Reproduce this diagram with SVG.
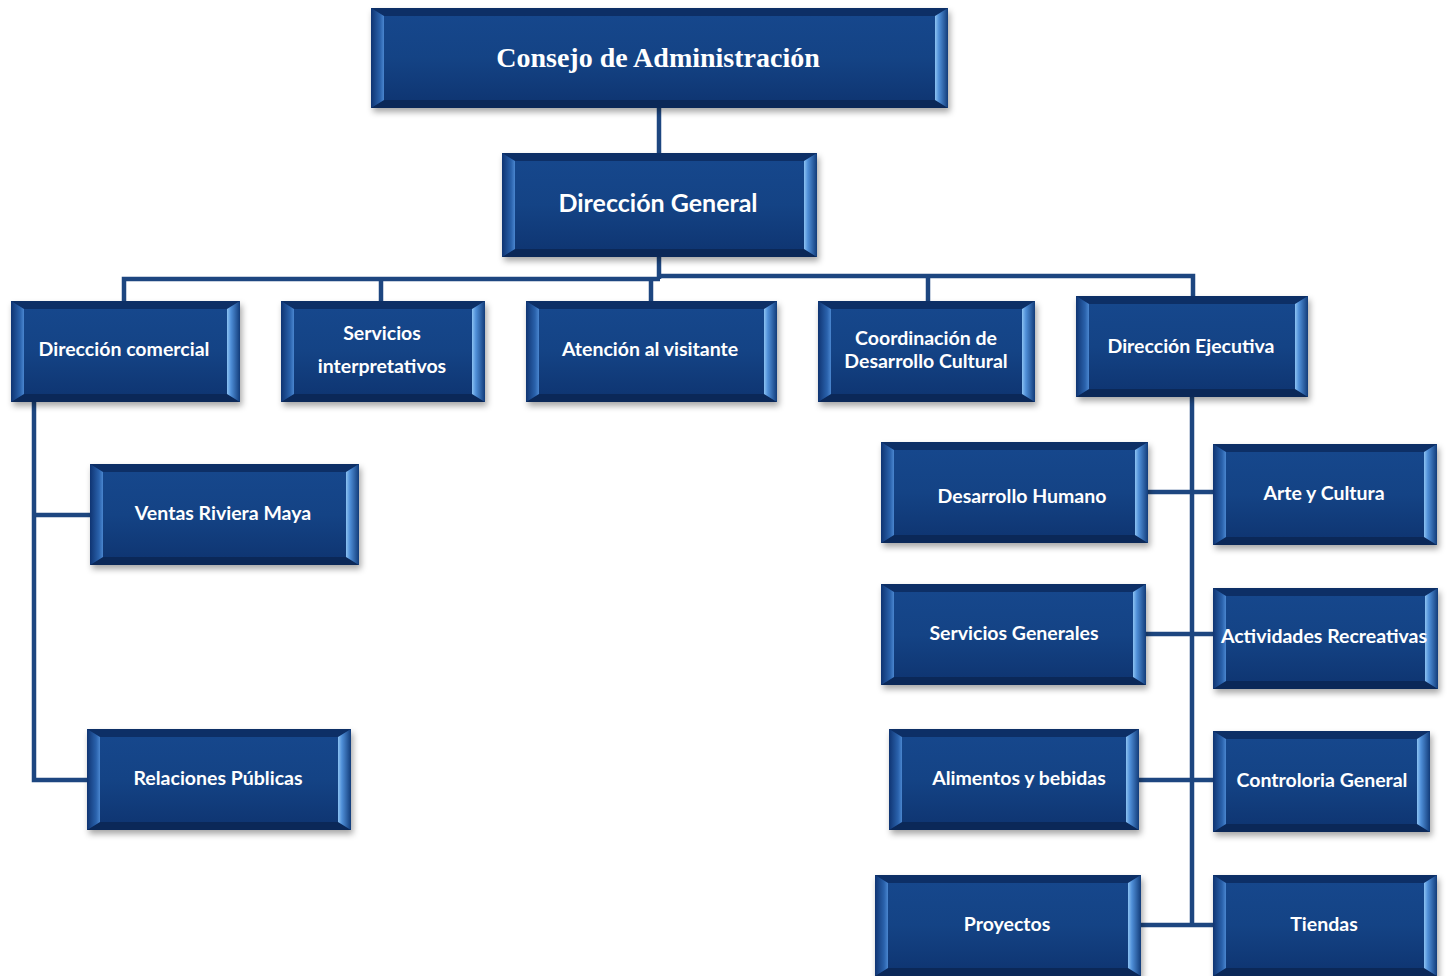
<svg xmlns="http://www.w3.org/2000/svg" width="1447" height="976" viewBox="0 0 1447 976">
<defs>
<linearGradient id="face" x1="0" y1="0" x2="0" y2="1">
<stop offset="0" stop-color="#16478c"/><stop offset="0.5" stop-color="#144385"/><stop offset="1" stop-color="#0f3673"/>
</linearGradient>
<linearGradient id="bevR" x1="0" y1="0" x2="1" y2="0">
<stop offset="0" stop-color="#8cc2f2"/><stop offset="0.3" stop-color="#4f8fd8"/><stop offset="1" stop-color="#123c7a"/>
</linearGradient>
<linearGradient id="bevL" x1="0" y1="0" x2="1" y2="0">
<stop offset="0" stop-color="#0f3472"/><stop offset="0.7" stop-color="#2a62ac"/><stop offset="1" stop-color="#4a86cf"/>
</linearGradient>
<filter id="sh" x="-10%" y="-10%" width="120%" height="130%">
<feDropShadow dx="2" dy="4" stdDeviation="3" flood-color="#000" flood-opacity="0.35"/>
</filter>
<style>
.base{fill:#0f3573;filter:url(#sh)}
.face{fill:url(#face)}
.bt{fill:#0d2f66}
.bb{fill:#0b2858}
.bl{fill:url(#bevL)}
.br{fill:url(#bevR)}
.t{fill:#fff;font-family:Lato,"Open Sans","Liberation Sans",sans-serif;font-weight:bold;font-size:19.5px;text-anchor:middle}
.tdg{font-size:25px}
.tt{fill:#fff;font-family:"Liberation Serif","DejaVu Serif",serif;font-weight:bold;font-size:28px;text-anchor:middle}
.c{stroke:#1d4680;stroke-width:4.5;fill:none}
</style>
</defs>
<rect width="1447" height="976" fill="#fff"/>
<g id="connectors">
<path class="c" d="M659,108 V153"/>
<path class="c" d="M659,257 V279"/>
<path class="c" d="M124,301 V279 H660"/>
<path class="c" d="M659,276 H1193 V296"/>
<path class="c" d="M381,279 V301"/>
<path class="c" d="M651,279 V301"/>
<path class="c" d="M928,276 V301"/>
<path class="c" d="M34,402 V780 H87"/>
<path class="c" d="M34,515 H90"/>
<path class="c" d="M1192,397 V925"/>
<path class="c" d="M1148,492 H1213"/>
<path class="c" d="M1146,634 H1213"/>
<path class="c" d="M1139,780 H1213"/>
<path class="c" d="M1141,925 H1213"/>
</g>
<g id="consejo" transform="translate(371,8)">
<rect class="base" width="577" height="100"/><rect class="face" x="13" y="8" width="551" height="84"/>
<path class="bt" d="M0,0 H577 l-13,8 H13 z"/><path class="bb" d="M0,100 H577 l-13,-8 H13 z"/>
<path class="bl" d="M0,0 l13,8 V92 L0,100 z"/><path class="br" d="M577,0 l-13,8 V92 L577,100 z"/>
<text class="tt" x="287" y="59">Consejo de Administración</text>
</g>
<g id="direccion-general" transform="translate(502,153)">
<rect class="base" width="315" height="104"/><rect class="face" x="13" y="8" width="289" height="88"/>
<path class="bt" d="M0,0 H315 l-13,8 H13 z"/><path class="bb" d="M0,104 H315 l-13,-8 H13 z"/>
<path class="bl" d="M0,0 l13,8 V96 L0,104 z"/><path class="br" d="M315,0 l-13,8 V96 L315,104 z"/>
<text class="t tdg" x="156" y="59">Dirección General</text>
</g>
<g id="direccion-comercial" transform="translate(11,301)">
<rect class="base" width="229" height="101"/><rect class="face" x="13" y="8" width="203" height="85"/>
<path class="bt" d="M0,0 H229 l-13,8 H13 z"/><path class="bb" d="M0,101 H229 l-13,-8 H13 z"/>
<path class="bl" d="M0,0 l13,8 V93 L0,101 z"/><path class="br" d="M229,0 l-13,8 V93 L229,101 z"/>
<text class="t" x="113" y="55">Dirección comercial</text>
</g>
<g id="servicios-interpretativos" transform="translate(281,301)">
<rect class="base" width="204" height="101"/><rect class="face" x="13" y="8" width="178" height="85"/>
<path class="bt" d="M0,0 H204 l-13,8 H13 z"/><path class="bb" d="M0,101 H204 l-13,-8 H13 z"/>
<path class="bl" d="M0,0 l13,8 V93 L0,101 z"/><path class="br" d="M204,0 l-13,8 V93 L204,101 z"/>
<text class="t" x="101" y="39">Servicios</text>
<text class="t" x="101" y="72">interpretativos</text>
</g>
<g id="atencion-visitante" transform="translate(526,301)">
<rect class="base" width="251" height="101"/><rect class="face" x="13" y="8" width="225" height="85"/>
<path class="bt" d="M0,0 H251 l-13,8 H13 z"/><path class="bb" d="M0,101 H251 l-13,-8 H13 z"/>
<path class="bl" d="M0,0 l13,8 V93 L0,101 z"/><path class="br" d="M251,0 l-13,8 V93 L251,101 z"/>
<text class="t" x="124" y="55">Atención al visitante</text>
</g>
<g id="coordinacion" transform="translate(818,301)">
<rect class="base" width="217" height="101"/><rect class="face" x="13" y="8" width="191" height="85"/>
<path class="bt" d="M0,0 H217 l-13,8 H13 z"/><path class="bb" d="M0,101 H217 l-13,-8 H13 z"/>
<path class="bl" d="M0,0 l13,8 V93 L0,101 z"/><path class="br" d="M217,0 l-13,8 V93 L217,101 z"/>
<text class="t" x="108" y="44">Coordinación de</text>
<text class="t" x="108" y="67">Desarrollo Cultural</text>
</g>
<g id="direccion-ejecutiva" transform="translate(1076,296)">
<rect class="base" width="232" height="101"/><rect class="face" x="13" y="8" width="206" height="85"/>
<path class="bt" d="M0,0 H232 l-13,8 H13 z"/><path class="bb" d="M0,101 H232 l-13,-8 H13 z"/>
<path class="bl" d="M0,0 l13,8 V93 L0,101 z"/><path class="br" d="M232,0 l-13,8 V93 L232,101 z"/>
<text class="t" x="115" y="57">Dirección Ejecutiva</text>
</g>
<g id="ventas" transform="translate(90,464)">
<rect class="base" width="269" height="101"/><rect class="face" x="13" y="8" width="243" height="85"/>
<path class="bt" d="M0,0 H269 l-13,8 H13 z"/><path class="bb" d="M0,101 H269 l-13,-8 H13 z"/>
<path class="bl" d="M0,0 l13,8 V93 L0,101 z"/><path class="br" d="M269,0 l-13,8 V93 L269,101 z"/>
<text class="t" x="133" y="56">Ventas Riviera Maya</text>
</g>
<g id="relaciones" transform="translate(87,729)">
<rect class="base" width="264" height="101"/><rect class="face" x="13" y="8" width="238" height="85"/>
<path class="bt" d="M0,0 H264 l-13,8 H13 z"/><path class="bb" d="M0,101 H264 l-13,-8 H13 z"/>
<path class="bl" d="M0,0 l13,8 V93 L0,101 z"/><path class="br" d="M264,0 l-13,8 V93 L264,101 z"/>
<text class="t" x="131" y="56">Relaciones Públicas</text>
</g>
<g id="desarrollo-humano" transform="translate(881,442)">
<rect class="base" width="267" height="101"/><rect class="face" x="13" y="8" width="241" height="85"/>
<path class="bt" d="M0,0 H267 l-13,8 H13 z"/><path class="bb" d="M0,101 H267 l-13,-8 H13 z"/>
<path class="bl" d="M0,0 l13,8 V93 L0,101 z"/><path class="br" d="M267,0 l-13,8 V93 L267,101 z"/>
<text class="t" x="141" y="61">Desarrollo Humano</text>
</g>
<g id="arte-cultura" transform="translate(1213,444)">
<rect class="base" width="224" height="101"/><rect class="face" x="13" y="8" width="198" height="85"/>
<path class="bt" d="M0,0 H224 l-13,8 H13 z"/><path class="bb" d="M0,101 H224 l-13,-8 H13 z"/>
<path class="bl" d="M0,0 l13,8 V93 L0,101 z"/><path class="br" d="M224,0 l-13,8 V93 L224,101 z"/>
<text class="t" x="111" y="56">Arte y Cultura</text>
</g>
<g id="servicios-generales" transform="translate(881,584)">
<rect class="base" width="265" height="101"/><rect class="face" x="13" y="8" width="239" height="85"/>
<path class="bt" d="M0,0 H265 l-13,8 H13 z"/><path class="bb" d="M0,101 H265 l-13,-8 H13 z"/>
<path class="bl" d="M0,0 l13,8 V93 L0,101 z"/><path class="br" d="M265,0 l-13,8 V93 L265,101 z"/>
<text class="t" x="133" y="56">Servicios Generales</text>
</g>
<g id="actividades" transform="translate(1213,588)">
<rect class="base" width="225" height="101"/><rect class="face" x="13" y="8" width="199" height="85"/>
<path class="bt" d="M0,0 H225 l-13,8 H13 z"/><path class="bb" d="M0,101 H225 l-13,-8 H13 z"/>
<path class="bl" d="M0,0 l13,8 V93 L0,101 z"/><path class="br" d="M225,0 l-13,8 V93 L225,101 z"/>
<text class="t" x="111" y="55">Actividades Recreativas</text>
</g>
<g id="alimentos" transform="translate(889,729)">
<rect class="base" width="250" height="101"/><rect class="face" x="13" y="8" width="224" height="85"/>
<path class="bt" d="M0,0 H250 l-13,8 H13 z"/><path class="bb" d="M0,101 H250 l-13,-8 H13 z"/>
<path class="bl" d="M0,0 l13,8 V93 L0,101 z"/><path class="br" d="M250,0 l-13,8 V93 L250,101 z"/>
<text class="t" x="130" y="56">Alimentos y bebidas</text>
</g>
<g id="controloria" transform="translate(1213,731)">
<rect class="base" width="217" height="101"/><rect class="face" x="13" y="8" width="191" height="85"/>
<path class="bt" d="M0,0 H217 l-13,8 H13 z"/><path class="bb" d="M0,101 H217 l-13,-8 H13 z"/>
<path class="bl" d="M0,0 l13,8 V93 L0,101 z"/><path class="br" d="M217,0 l-13,8 V93 L217,101 z"/>
<text class="t" x="109" y="56">Controloria General</text>
</g>
<g id="proyectos" transform="translate(875,875)">
<rect class="base" width="266" height="101"/><rect class="face" x="13" y="8" width="240" height="85"/>
<path class="bt" d="M0,0 H266 l-13,8 H13 z"/><path class="bb" d="M0,101 H266 l-13,-8 H13 z"/>
<path class="bl" d="M0,0 l13,8 V93 L0,101 z"/><path class="br" d="M266,0 l-13,8 V93 L266,101 z"/>
<text class="t" x="132" y="56">Proyectos</text>
</g>
<g id="tiendas" transform="translate(1213,875)">
<rect class="base" width="224" height="101"/><rect class="face" x="13" y="8" width="198" height="85"/>
<path class="bt" d="M0,0 H224 l-13,8 H13 z"/><path class="bb" d="M0,101 H224 l-13,-8 H13 z"/>
<path class="bl" d="M0,0 l13,8 V93 L0,101 z"/><path class="br" d="M224,0 l-13,8 V93 L224,101 z"/>
<text class="t" x="111" y="56">Tiendas</text>
</g>
</svg>
